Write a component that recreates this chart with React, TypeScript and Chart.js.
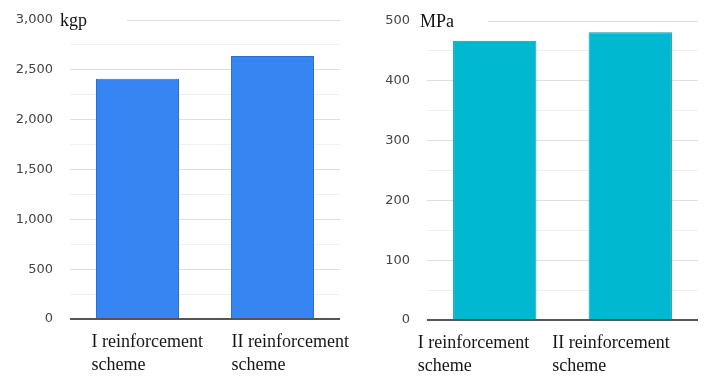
import React, { useEffect, useRef } from "react";
import { Chart, registerables } from "chart.js";

Chart.register(...registerables);

const categories: string[][] = [
  ["I reinforcement", "scheme"],
  ["II reinforcement", "scheme"],
];
const forceValues = [2410, 2640];
const stressValues = [467, 481];
const forceUnit = "kgp";
const stressUnit = "MPa";
const forceMax = 3000;
const forceMajor = 500;
const stressMax = 500;
const stressMajor = 100;

type Cfg = {
  values: number[];
  unit: string;
  max: number;
  major: number;
  color: string;
  border: string;
  labelOffsets: number[];
  unitX: number;
  boxW: number;
  bottom: number;
  top: number;
};

function makeChart(canvas: HTMLCanvasElement, c: Cfg) {
  const plugin = {
    id: "extras",
    afterDatasetsDraw(chart: any) {
      const ctx = chart.ctx as CanvasRenderingContext2D;
      const area = chart.chartArea;
      const xs = chart.scales.x;
      const ys = chart.scales.y;
      ctx.save();
      const yTop = ys.getPixelForValue(c.max);
      ctx.fillStyle = "#ffffff";
      ctx.fillRect(area.left - 12, yTop - 12, c.boxW, 24);
      ctx.fillStyle = "#111";
      ctx.font = "18px 'Liberation Serif', serif";
      ctx.textAlign = "left";
      ctx.textBaseline = "alphabetic";
      ctx.fillText(c.unit, area.left + c.unitX, yTop + 6);
      ctx.fillStyle = "#161616";
      ctx.font = "18px 'Liberation Serif', serif";
      categories.forEach((lines, i) => {
        const x = xs.getPixelForValue(i) + c.labelOffsets[i];
        lines.forEach((ln, j) => {
          ctx.fillText(ln, x, area.bottom + 28 + j * 23);
        });
      });
      ctx.restore();
    },
  };

  return new Chart(canvas, {
    type: "bar",
    data: {
      labels: categories.map((l) => l.join(" ")),
      datasets: [
        {
          data: c.values,
          backgroundColor: c.color,
          borderColor: c.border,
          borderWidth: 1,
          categoryPercentage: 1,
          barPercentage: 0.615,
        },
      ],
    },
    options: {
      animation: false,
      responsive: false,
      maintainAspectRatio: false,
      layout: { padding: { left: 0, right: 17, top: c.top, bottom: 0 } },
      plugins: { legend: { display: false }, tooltip: { enabled: false } },
      scales: {
        x: {
          grid: { display: false, drawTicks: false },
          border: { display: false },
          ticks: { display: false },
          afterFit(scale: any) {
            scale.height = c.bottom;
          },
        },
        y: {
          min: 0,
          max: c.max,
          grid: {
            drawTicks: false,
            color: (ctx: any) => {
              const v = ctx.tick ? ctx.tick.value : 0;
              if (v === 0) return "#555555";
              return v % c.major === 0 ? "#dedede" : "#f0f0f0";
            },
            lineWidth: (ctx: any) => (ctx.tick && ctx.tick.value === 0 ? 2 : 1),
          },
          border: { display: false },
          ticks: {
            stepSize: c.major / 2,
            padding: 17,
            color: "#444444",
            font: { family: "'DejaVu Sans', sans-serif", size: 13 },
            callback: (v: any) =>
              Number(v) % c.major === 0 ? Number(v).toLocaleString("en-US") : "",
          },
          afterFit(scale: any) {
            scale.width = 70;
            scale.paddingTop = 0;
            scale.paddingBottom = 0;
          },
        },
      },
    },
    plugins: [plugin],
  });
}

export default function App() {
  const r1 = useRef<HTMLCanvasElement>(null);
  const r2 = useRef<HTMLCanvasElement>(null);
  useEffect(() => {
    document.body.style.margin = "0";
    const c1 = makeChart(r1.current!, {
      values: forceValues,
      unit: forceUnit,
      max: forceMax,
      major: forceMajor,
      color: "#3685f2",
      border: "#2a6fd0",
      labelOffsets: [-46, -41],
      unitX: -10,
      boxW: 69,
      bottom: 65,
      top: 20,
    });
    const c2 = makeChart(r2.current!, {
      values: stressValues,
      unit: stressUnit,
      max: stressMax,
      major: stressMajor,
      color: "#00b8cf",
      border: "#0a97a8",
      labelOffsets: [-77, -78],
      unitX: -7,
      boxW: 73,
      bottom: 64,
      top: 21,
    });
    return () => {
      c1.destroy();
      c2.destroy();
    };
  }, []);
  return (
    <div style={{ position: "relative", width: 715, height: 384, background: "#fff" }}>
      <canvas ref={r1} width={357} height={384} style={{ position: "absolute", left: 0, top: 0 }} />
      <canvas ref={r2} width={358} height={384} style={{ position: "absolute", left: 357, top: 0 }} />
    </div>
  );
}
